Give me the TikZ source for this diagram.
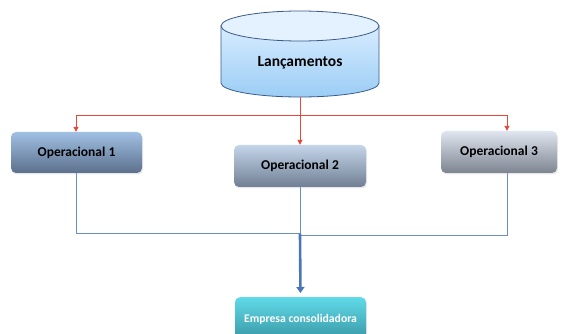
\documentclass[tikz,border=0pt]{standalone}
\usepackage{fontspec}
\setmainfont{Carlito}
\usetikzlibrary{arrows.meta,shadows}
\definecolor{redline}{HTML}{E8483A}
\definecolor{blueline}{HTML}{6A8FC8}
\definecolor{bluethick}{HTML}{4A76B8}
\definecolor{cylborder}{HTML}{3A5A8A}
\definecolor{cyltop}{RGB}{228,242,255}
\definecolor{cylbodytop}{RGB}{215,236,255}
\definecolor{cylbodybot}{RGB}{155,205,245}
\definecolor{opAtop}{RGB}{160,192,228}
\definecolor{opAbot}{RGB}{92,112,140}
\definecolor{opBtop}{RGB}{196,213,234}
\definecolor{opBbot}{RGB}{112,127,148}
\definecolor{opCtop}{RGB}{224,230,240}
\definecolor{opCbot}{RGB}{124,132,144}
\definecolor{emptop}{RGB}{96,218,232}
\definecolor{empbot}{RGB}{56,150,164}
\tikzset{
  opbox/.style={rounded corners=5pt, minimum width=#1, font=\bfseries\fontsize{13.5}{15}\selectfont, text=black,
    drop shadow={opacity=0.18, shadow xshift=1pt, shadow yshift=-1.5pt}},
  redarrow/.style={draw=redline, line width=0.9pt, -{Triangle[length=5pt,width=5pt]}},
  blueln/.style={draw=blueline, line width=1pt},
}
\begin{document}
\begin{tikzpicture}[x=1pt,y=-1pt]
\useasboundingbox (0,0) rectangle (563,334);
% cylinder
\shade[top color=cylbodytop, bottom color=cylbodybot, draw=cylborder, line width=0.8pt]
  (221,26) -- (221,83) arc[start angle=180, end angle=360, x radius=79, y radius=-14] -- (379,26) -- cycle;
\fill[cyltop] (300,26) ellipse[x radius=79, y radius=15];
\draw[cylborder, line width=0.8pt] (300,26) ellipse[x radius=79, y radius=15];
\node[font=\bfseries\fontsize{15.5}{17}\selectfont] (lanc) at (300,63) {Lançamentos};
\coordinate (cylb) at (300,97);
% boxes
\node[opbox=131pt, minimum height=41pt, top color=opAtop, bottom color=opAbot] (op1) at (76.5,152.5) {Operacional 1};
\node[opbox=132pt, minimum height=42pt, top color=opBtop, bottom color=opBbot] (op2) at (300,166) {Operacional 2};
\node[opbox=116pt, minimum height=42pt, top color=opCtop, bottom color=opCbot] (op3) at (499,152) {Operacional 3};
\node[rounded corners=5pt, minimum width=131pt, minimum height=44pt, top color=emptop, bottom color=empbot, text=white, font=\bfseries\fontsize{11.7}{13}\selectfont, anchor=north,
  drop shadow={opacity=0.18, shadow xshift=1pt, shadow yshift=-1.5pt}] (emp) at (300.5,297) {Empresa consolidadora};
% red connectors
\coordinate (r1) at (76,115);
\coordinate (rm) at (300,115);
\coordinate (r3) at (507,115);
\draw[redline, line width=0.9pt] (cylb) -- (rm);
\draw[redline, line width=0.9pt] (r1) -- (r3);
\draw[redarrow] (r1) -- (op1.north -| r1);
\draw[redarrow] (rm) -- (op2.north);
\draw[redarrow] (r3) -- (op3.north -| r3);
% blue connectors
\coordinate (j) at (300,234);
\coordinate (j2) at (300,236);
\coordinate (b1) at (76,0);
\coordinate (b3) at (507,0);
\draw[blueln] (op1.south -| b1) |- (j);
\draw[blueln] (op3.south -| b3) |- (j2);
\draw[blueln] (op2.south) -- (j);
\draw[draw=bluethick, line width=2.6pt, shorten >=4pt, -{Triangle[length=6pt,width=8pt]}] (j) -- (emp.north);
\end{tikzpicture}
\end{document}
